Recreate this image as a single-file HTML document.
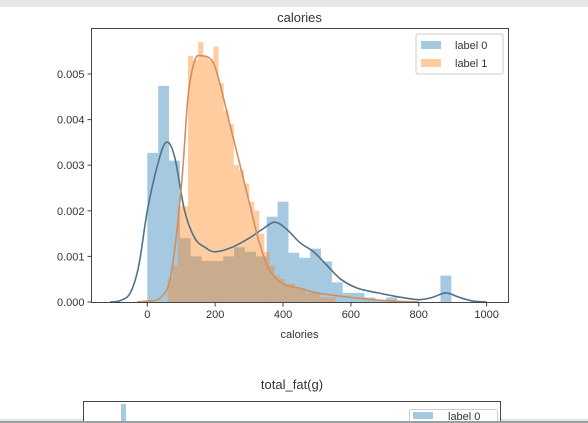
<!DOCTYPE html>
<html><head><meta charset="utf-8"><style>
html,body{margin:0;padding:0;background:#fff;}
svg{display:block;font-family:"Liberation Sans","DejaVu Sans",sans-serif;}
</style></head><body>
<svg id="chart" width="588" height="423" viewBox="0 0 588 423">
<rect x="0" y="0" width="588" height="7" fill="#e6e6e6"/>
<g id="plot"></g>
<text x="299.5" y="22" font-size="13" text-anchor="middle" fill="#333">calories</text>
<text x="299.5" y="338" font-size="11" text-anchor="middle" fill="#333">calories</text>
<g>
<rect x="416" y="34" width="87" height="40" rx="2" fill="#fff" stroke="#ccc"/>
<rect x="421" y="41" width="20" height="8" fill="#1f77b4" fill-opacity="0.4"/>
<text x="455" y="49" font-size="11" fill="#333">label 0</text>
<rect x="421" y="59" width="20" height="8" fill="#ff7f0e" fill-opacity="0.4"/>
<text x="455" y="67" font-size="11" fill="#333">label 1</text>
</g>
<g>
<text x="292" y="389" font-size="13" text-anchor="middle" fill="#333">total_fat(g)</text>
<rect x="83.5" y="401.5" width="417" height="30" fill="#fff" stroke="#444"/>
<rect x="121" y="404" width="5" height="20" fill="#1f77b4" fill-opacity="0.4"/>
<rect x="409.5" y="409.5" width="88" height="20" rx="2" fill="#fff" stroke="#ccc"/>
<rect x="413" y="412" width="20" height="7" fill="#1f77b4" fill-opacity="0.4"/>
<text x="448" y="420" font-size="11" fill="#333">label 0</text>
</g>
<rect x="0" y="419" width="83" height="2" fill="#e6e6e6"/>
<rect x="501" y="419" width="87" height="2" fill="#e6e6e6"/>
<rect x="0" y="421" width="588" height="2" fill="#9aa0a0"/>
</svg>
<script>
const xTicks=[0,200,400,600,800,1000];
const yTicks=[0,0.001,0.002,0.003,0.004,0.005];
const blueStart=0, blueWidth=32;
const blueBins=[0.00327,0.00474,0.0031,0.0014,0.0010,0.0009,0.0009,0.0010,0.0012,0.0011,0.0010,0.00187,0.0022,0.00108,0.00097,0.00117,0.00089,0.00043,0.0002,0.0002,0.0001,0.00005,0.0001,0,0,0,0,0.00058];
const orangeStart=60, orangeWidth=15;
const orangeBins=[0.0005,0.0008,0.0021,0.0021,0.0054,0.0053,0.0057,0.0054,0.0053,0.0056,0.0048,0.0042,0.0039,0.0030,0.0029,0.0026,0.0022,0.0020,0.0015,0.0011,0.0008,0.0006,0.0005,0.0004,0.0004,0.0003,0.0003,0.0002,0.0002,0.0002,0.0001,0.0001,0.0001];
const blueKdeX=[-110,-80,-50,-25,0,30,55,80,110,140,170,200,250,300,340,375,410,450,490,530,570,620,680,750,800,840,880,920,960,1000];
const blueKdeY=[0,0.00003,0.0002,0.0008,0.0020,0.0030,0.0035,0.0032,0.0020,0.0014,0.0012,0.0011,0.0012,0.0014,0.0016,0.00175,0.0016,0.0013,0.0011,0.0008,0.0005,0.0003,0.0002,0.0001,0.00005,0.0001,0.0002,0.0001,0.00002,0];
const orangeKdeX=[-30,0,40,70,100,120,140,160,190,210,240,270,300,330,360,400,450,500,600,700,800];
const orangeKdeY=[0,0.00002,0.0001,0.0006,0.0025,0.0045,0.0053,0.0054,0.0053,0.0049,0.0040,0.0031,0.0022,0.0013,0.0007,0.0004,0.0003,0.0002,0.0001,0.00003,0];
const L=91.5,R=508.5,T=28.5,B=302.5;
const sx=v=>147.3+v*0.3393;
const sy=v=>302-v*45600;
const NS='http://www.w3.org/2000/svg';
const g=document.getElementById('plot');
function mk(t,a){const e=document.createElementNS(NS,t);for(const k in a)e.setAttribute(k,a[k]);g.appendChild(e);return e;}
blueBins.forEach((v,i)=>{if(v<=0)return;const x0=sx(blueStart+i*blueWidth),x1=sx(blueStart+(i+1)*blueWidth);
const r=mk('rect',{x:x0,y:sy(v),width:x1-x0,height:sy(0)-sy(v),fill:'#1f77b4','fill-opacity':0.4});

});
orangeBins.forEach((v,i)=>{const x0=sx(orangeStart+i*orangeWidth),x1=sx(orangeStart+(i+1)*orangeWidth);
const r=mk('rect',{x:x0,y:sy(v),width:x1-x0,height:sy(0)-sy(v),fill:'#ff7f0e','fill-opacity':0.4});

});
function line(xs,ys,c,n){const P=xs.map((x,i)=>[sx(x),sy(ys[i])]);
let d='M'+P[0][0].toFixed(1)+','+P[0][1].toFixed(1);
for(let i=0;i<P.length-1;i++){const p0=P[Math.max(0,i-1)],p1=P[i],p2=P[i+1],p3=P[Math.min(P.length-1,i+2)];
const c1=[p1[0]+(p2[0]-p0[0])/6,p1[1]+(p2[1]-p0[1])/6],c2=[p2[0]-(p3[0]-p1[0])/6,p2[1]-(p3[1]-p1[1])/6];
d+='C'+c1.map(v=>v.toFixed(1)).join(',')+' '+c2.map(v=>v.toFixed(1)).join(',')+' '+p2.map(v=>v.toFixed(1)).join(',');}
const e=mk('path',{d:d,fill:'none',stroke:c,'stroke-width':1.6});

}
line(blueKdeX,blueKdeY,'#4f7287','kde-label-0');
line(orangeKdeX,orangeKdeY,'#d28f5c','kde-label-1');
const f=mk('rect',{x:L,y:T,width:R-L,height:B-T,fill:'none',stroke:'#444','stroke-width':1});


xTicks.forEach(v=>{mk('line',{x1:sx(v),x2:sx(v),y1:B,y2:B+4,stroke:'#444'});
const t=mk('text',{x:sx(v),y:318,'font-size':11,'text-anchor':'middle',fill:'#333'});t.textContent=v;

});
yTicks.forEach(v=>{mk('line',{x1:L-4,x2:L,y1:sy(v),y2:sy(v),stroke:'#444'});
const t=mk('text',{x:L-7,y:sy(v)+4,'font-size':11,'text-anchor':'end',fill:'#333'});t.textContent=v.toFixed(3);

});
</script>
</body></html>
